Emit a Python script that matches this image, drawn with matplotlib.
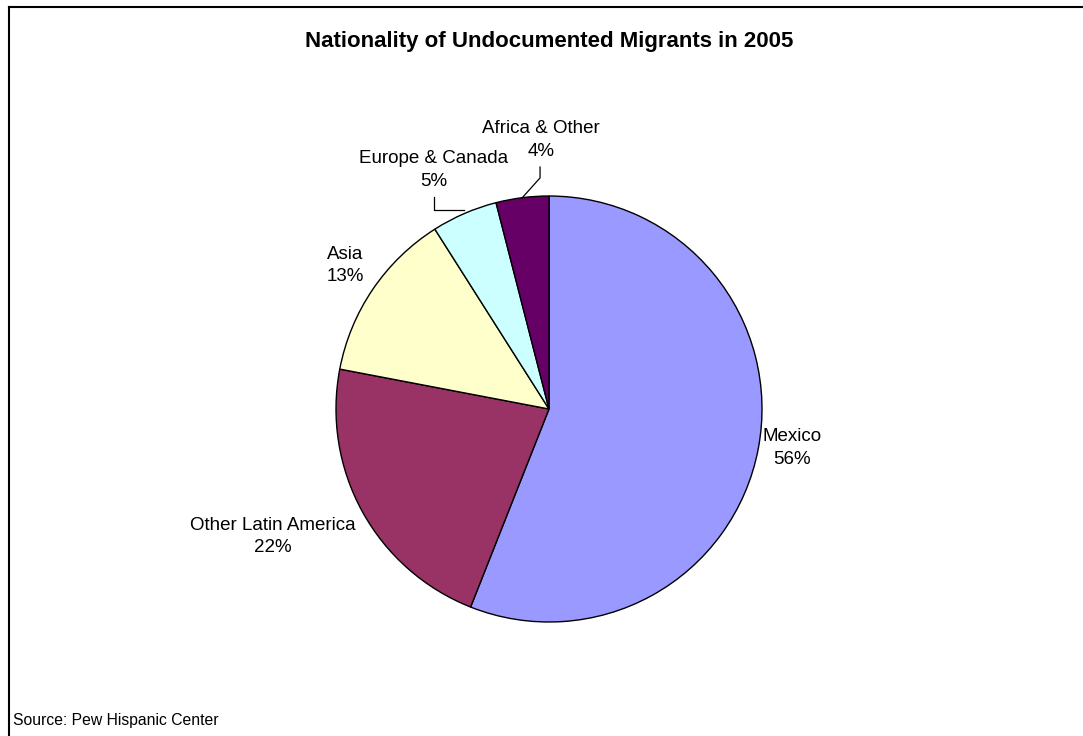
import numpy as np
import matplotlib
matplotlib.use("Agg")
import matplotlib.pyplot as plt
from matplotlib.lines import Line2D

plt.rcParams['font.family'] = ['Liberation Sans', 'DejaVu Sans']

regions = ["Mexico", "Other Latin America", "Asia", "Europe & Canada", "Africa & Other"]
shares = [56, 22, 13, 5, 4]
colors = ["#9999FF", "#993366", "#FFFFCC", "#CCFFFF", "#660066"]

# label placement (distance from centre in radii, angle nudge in degrees)
label_dist = [1.155, 1.43, 1.17, 1.245, 1.263]
label_nudge = [1.7, -4.0, -1.0, 2.3, -5.5]

fig = plt.figure(figsize=(10.83, 7.36), dpi=100)
fig.patch.set_facecolor("white")

# frame (open on right and bottom, as in the original export)
fig.add_artist(Line2D([9 / 1083, 9 / 1083], [0, 1 - 7 / 736], color="black", lw=1.5))
fig.add_artist(Line2D([9 / 1083, 1], [1 - 7 / 736, 1 - 7 / 736], color="black", lw=1.5))

ax = fig.add_axes([336 / 1083, 114 / 736, 426 / 1083, 426 / 736])
wedges, _ = ax.pie(shares, colors=colors, startangle=90, counterclock=False,
                   wedgeprops=dict(edgecolor="black", linewidth=1))
ax.set_xlim(-1, 1)
ax.set_ylim(-1, 1)
ax.set_aspect("equal")
ax.axis("off")

total = sum(shares)
start = 90.0
for i, (name, val) in enumerate(zip(regions, shares)):
    mid = start - val / total * 360 / 2
    start -= val / total * 360
    ang = np.deg2rad(mid + label_nudge[i])
    x = label_dist[i] * np.cos(ang)
    y = label_dist[i] * np.sin(ang)
    ax.text(x, y, f"{name}\n{val}%", ha="center", va="center", fontsize=13.5,
            linespacing=1.4, clip_on=False)

# leader lines for the two small slices
ax.plot([-0.542, -0.542, -0.40], [0.993, 0.935, 0.935],
        color="black", lw=0.9, clip_on=False)
w_af = wedges[4]
a_af = np.deg2rad((w_af.theta1 + w_af.theta2) / 2)
ax.plot([-0.042, -0.042, np.cos(a_af)], [1.136, 1.085, np.sin(a_af)],
        color="black", lw=0.9, clip_on=False)

fig.text(549 / 1083, 1 - 42 / 736, "Nationality of Undocumented Migrants in 2005",
         ha="center", va="center", fontsize=16, fontweight="bold")
fig.text(13 / 1083, 1 - 720 / 736, "Source: Pew Hispanic Center",
         ha="left", va="center", fontsize=11.3)

fig.savefig("out.png", dpi=100, facecolor="white")
